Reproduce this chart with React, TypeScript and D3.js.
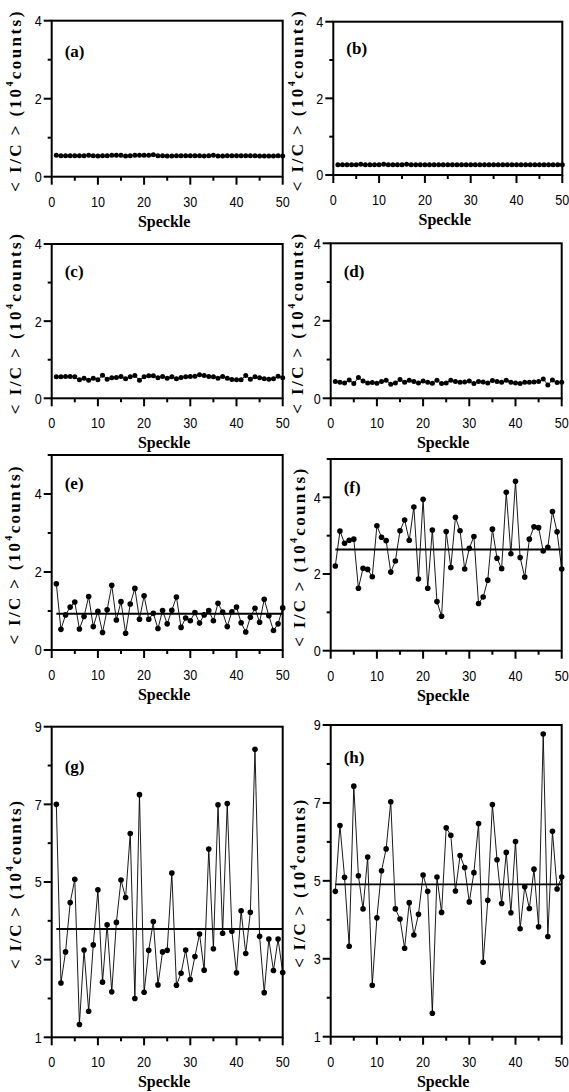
import React from 'react';
import * as d3 from 'd3';

const speckle = [1,2,3,4,5,6,7,8,9,10,11,12,13,14,15,16,17,18,19,20,21,22,23,24,25,26,27,28,29,30,31,32,33,34,35,36,37,38,39,40,41,42,43,44,45,46,47,48,49,50];

const seriesA = [0.55,0.54,0.54,0.54,0.54,0.54,0.54,0.55,0.54,0.53,0.54,0.54,0.55,0.55,0.55,0.53,0.54,0.55,0.55,0.55,0.55,0.56,0.54,0.54,0.53,0.53,0.54,0.54,0.54,0.54,0.54,0.54,0.53,0.54,0.55,0.53,0.53,0.54,0.54,0.54,0.54,0.54,0.54,0.54,0.53,0.53,0.53,0.53,0.54,0.53];
const seriesB = [0.27,0.27,0.27,0.27,0.27,0.28,0.27,0.27,0.27,0.27,0.28,0.27,0.27,0.27,0.27,0.28,0.27,0.27,0.27,0.27,0.27,0.27,0.27,0.27,0.27,0.27,0.27,0.27,0.27,0.27,0.27,0.27,0.27,0.27,0.27,0.27,0.27,0.27,0.27,0.27,0.27,0.27,0.27,0.27,0.27,0.27,0.27,0.27,0.27,0.27];
const seriesC = [0.557,0.557,0.565,0.565,0.557,0.478,0.522,0.470,0.522,0.478,0.600,0.496,0.530,0.539,0.565,0.504,0.557,0.591,0.470,0.557,0.583,0.583,0.530,0.565,0.522,0.557,0.504,0.539,0.557,0.565,0.574,0.609,0.591,0.565,0.557,0.522,0.565,0.522,0.487,0.478,0.478,0.591,0.496,0.557,0.530,0.504,0.496,0.504,0.574,0.530];
const seriesD = [0.431,0.414,0.397,0.474,0.379,0.534,0.448,0.397,0.405,0.388,0.431,0.466,0.362,0.397,0.483,0.414,0.466,0.431,0.397,0.448,0.414,0.388,0.466,0.379,0.397,0.466,0.431,0.414,0.422,0.448,0.379,0.431,0.422,0.397,0.457,0.431,0.414,0.466,0.414,0.397,0.379,0.414,0.414,0.422,0.431,0.500,0.345,0.474,0.405,0.414];
const seriesE = [1.70,0.53,0.90,1.10,1.23,0.54,0.86,1.37,0.60,0.99,0.45,1.03,1.66,0.77,1.24,0.43,1.18,1.58,0.79,1.39,0.79,0.94,0.55,1.01,0.67,1.02,1.36,0.58,0.82,0.75,0.96,0.69,0.90,1.01,0.75,1.20,0.97,0.60,0.98,1.10,0.70,0.46,0.84,1.07,0.71,1.30,0.88,0.50,0.67,1.08];
const seriesF = [2.21,3.12,2.80,2.88,2.91,1.63,2.15,2.12,1.93,3.26,2.96,2.87,2.05,2.34,3.13,3.41,2.88,3.75,1.87,3.95,1.63,3.15,1.28,0.90,3.11,2.17,3.48,3.13,2.13,2.67,2.98,1.23,1.40,1.84,3.17,2.41,2.14,4.13,2.53,4.42,2.43,1.92,2.91,3.23,3.21,2.60,2.70,3.63,3.10,2.13];
const seriesG = [7.00,2.40,3.20,4.47,5.07,1.33,3.25,1.67,3.38,4.80,2.42,3.90,2.17,3.96,5.05,4.60,6.25,2.00,7.25,2.16,3.24,3.98,2.35,3.20,3.24,5.23,2.34,2.65,3.25,2.49,3.08,3.66,2.73,5.85,3.28,6.99,3.68,7.02,3.73,2.66,4.26,3.16,4.22,8.42,3.60,2.15,3.53,2.72,3.53,2.67];
const seriesH = [4.73,6.42,5.09,3.32,7.43,5.13,4.28,5.61,2.32,4.05,5.26,5.82,7.03,4.28,4.02,3.27,4.44,3.61,4.14,5.15,4.73,1.60,5.10,4.19,6.36,6.17,4.74,5.65,5.34,4.46,5.21,6.47,2.91,4.50,6.96,5.54,4.42,5.73,4.18,6.01,3.77,4.85,4.29,5.30,3.82,8.77,3.57,6.27,4.79,5.10];

const meanE = 0.93;
const meanF = 2.64;
const meanG = 3.79;
const meanH = 4.91;

const xTickLabels = [0, 10, 20, 30, 40, 50];
const xMinorTicks = [5, 15, 25, 35, 45];
const smallMajor = [0, 2, 4];
const smallMinor = [1, 3, 5];
const bigMajor = [1, 3, 5, 7, 9];
const bigMinor = [2, 4, 6, 8];

const panelLetters = ['(a)', '(b)', '(c)', '(d)', '(e)', '(f)', '(g)', '(h)'];

const panels = [
  { name: panelLetters[0], values: seriesA, mean: null, x0: 51.7, x1: 282.7, yTop: 20.7, yBot: 176.7, dom: [0, 4], major: smallMajor, minor: [1, 3], r: 2.5, labelX: 15, labelLen: 180, tagDy: 36 },
  { name: panelLetters[1], values: seriesB, mean: null, x0: 333.3, x1: 562.3, yTop: 21.7, yBot: 175, dom: [0, 4], major: smallMajor, minor: [1, 3], r: 2.5, labelX: 297, labelLen: 180, tagDy: 32 },
  { name: panelLetters[2], values: seriesC, mean: null, x0: 51.7, x1: 282.7, yTop: 244, yBot: 398.3, dom: [0, 4], major: smallMajor, minor: [1, 3], r: 2.5, labelX: 15, labelLen: 180, tagDy: 33 },
  { name: panelLetters[3], values: seriesD, mean: null, x0: 330.7, x1: 561.7, yTop: 243.3, yBot: 398.3, dom: [0, 4], major: smallMajor, minor: [1, 3], r: 2.5, labelX: 297, labelLen: 180, tagDy: 34 },
  { name: panelLetters[4], values: seriesE, mean: meanE, x0: 51.7, x1: 282.7, yTop: 455, yBot: 650, dom: [0, 5], major: smallMajor, minor: smallMinor, r: 2.8, labelX: 14, labelLen: 178, tagDy: 34 },
  { name: panelLetters[5], values: seriesF, mean: meanF, x0: 330.7, x1: 561.7, yTop: 459, yBot: 650.7, dom: [0, 5], major: smallMajor, minor: smallMinor, r: 2.8, labelX: 299, labelLen: 178, tagDy: 34 },
  { name: panelLetters[6], values: seriesG, mean: meanG, x0: 51.7, x1: 282.7, yTop: 726.7, yBot: 1037.3, dom: [1, 9], major: bigMajor, minor: bigMinor, r: 2.8, labelX: 15, labelLen: 168, tagDy: 45 },
  { name: panelLetters[7], values: seriesH, mean: meanH, x0: 330.7, x1: 561.7, yTop: 725, yBot: 1036.7, dom: [1, 9], major: bigMajor, minor: bigMinor, r: 2.8, labelX: 299, labelLen: 168, tagDy: 38 },
];

const tickFont = "'Liberation Sans Narrow', 'Arial Narrow', 'Liberation Sans', sans-serif";
const serifFont = "'Liberation Serif', 'Times New Roman', serif";

function TickText({ x, y, anchor, value, dy }: { x: number; y: number; anchor: string; value: number; dy?: string }) {
  const s = String(value);
  return (
    <text x={x} y={y} dy={dy} textAnchor={anchor} fontFamily={tickFont} fontSize={15} textLength={s.length * 7} lengthAdjust="spacingAndGlyphs">{s}</text>
  );
}

function Panel({ p }: { p: any }) {
  const x = d3.scaleLinear().domain([0, 50]).range([p.x0, p.x1]);
  const y = d3.scaleLinear().domain(p.dom).range([p.yBot, p.yTop]);
  const line = d3.line<number>().x((_, i) => x(speckle[i])).y((d) => y(d));
  const cy = (p.yTop + p.yBot) / 2 + 3;
  return (
    <g>
      <rect x={p.x0} y={p.yTop} width={p.x1 - p.x0} height={p.yBot - p.yTop} fill="none" stroke="#000" strokeWidth={2} />
      {xTickLabels.map((t) => (
        <g key={'xt' + t}>
          <line x1={x(t)} x2={x(t)} y1={p.yBot} y2={p.yBot + 8} stroke="#000" strokeWidth={2} />
          <TickText x={x(t)} y={p.yBot + 30} anchor="middle" value={t} />
        </g>
      ))}
      {xMinorTicks.map((t) => (
        <line key={'xm' + t} x1={x(t)} x2={x(t)} y1={p.yBot} y2={p.yBot + 4} stroke="#000" strokeWidth={2} />
      ))}
      {p.major.map((t: number) => (
        <g key={'yt' + t}>
          <line x1={p.x0} x2={p.x0 - 8} y1={y(t)} y2={y(t)} stroke="#000" strokeWidth={2} />
          <TickText x={p.x0 - 10} y={y(t)} dy="0.36em" anchor="end" value={t} />
        </g>
      ))}
      {p.minor.map((t: number) => (
        <line key={'ym' + t} x1={p.x0} x2={p.x0 - 4} y1={y(t)} y2={y(t)} stroke="#000" strokeWidth={2} />
      ))}
      <text x={(p.x0 + p.x1) / 2 - 3} y={p.yBot + 50} textAnchor="middle" fontFamily={serifFont} fontWeight="bold" fontSize={16}>Speckle</text>
      <text
        transform={`translate(${p.labelX},${cy}) rotate(-90)`}
        textAnchor="middle"
        dominantBaseline="central"
        fontFamily={serifFont}
        fontWeight="bold"
        fontSize={17}
        textLength={p.labelLen}
        lengthAdjust="spacing"
      >
        {'< I/C > (10'}
        <tspan fontSize={10} dy={-6}>4</tspan>
        <tspan dy={6}>counts)</tspan>
      </text>
      <text x={p.x0 + 13} y={p.yTop + p.tagDy} fontFamily={serifFont} fontWeight="bold" fontSize={17}>{p.name}</text>
      {p.mean !== null && (
        <line x1={x(speckle[0])} x2={x(speckle[speckle.length - 1])} y1={y(p.mean)} y2={y(p.mean)} stroke="#000" strokeWidth={1.8} />
      )}
      <path d={line(p.values) || ''} fill="none" stroke="#000" strokeWidth={0.9} />
      {p.values.map((v: number, i: number) => (
        <circle key={i} cx={x(speckle[i])} cy={y(v)} r={p.r} fill="#000" />
      ))}
    </g>
  );
}

export default function App() {
  return (
    <svg width={569} height={1092} style={{ position: 'absolute', left: 0, top: 0, background: '#fff' }}>
      <rect x={0} y={0} width={569} height={1092} fill="#fff" />
      {panels.map((p) => (
        <Panel key={p.name} p={p} />
      ))}
    </svg>
  );
}
